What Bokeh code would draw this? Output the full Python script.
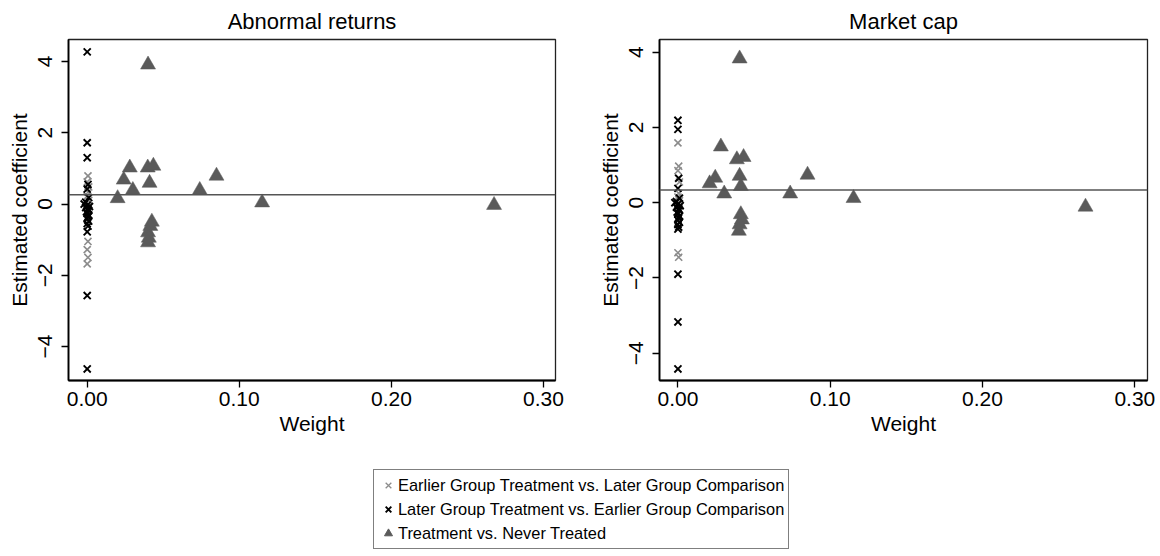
from bokeh.plotting import figure
from bokeh.models import Span, Legend, LegendItem, FixedTicker, Range1d, ColumnDataSource, NumeralTickFormatter
from bokeh.layouts import column, row
from bokeh.embed import file_html
from bokeh.resources import INLINE

FONT = "Liberation Sans"

# ---------------- data ----------------
titles = ["Abnormal returns", "Market cap"]
legend_labels = ["Earlier Group Treatment vs. Later Group Comparison",
                 "Later Group Treatment vs. Earlier Group Comparison",
                 "Treatment vs. Never Treated"]
x_ticks = [0.0, 0.1, 0.2, 0.3]
y_ticks = [-4, -2, 0, 2, 4]
y_tick_labels = {-4: "\u22124", -2: "\u22122", 0: "0", 2: "2", 4: "4"}

# Abnormal returns
ar_never_x = [0.040, 0.028, 0.0398, 0.0435, 0.024, 0.030, 0.041, 0.020, 0.074, 0.085,
              0.115, 0.2675, 0.0425, 0.0415, 0.040, 0.0405, 0.040]
ar_never_y = [3.91, 1.02, 1.02, 1.07, 0.68, 0.39, 0.59, 0.16, 0.39, 0.79,
              0.04, -0.03, -0.50, -0.62, -0.80, -0.95, -1.08]
ar_early_x = [0.0005, 0.0, 0.001, 0.0005, 0.0, 0.001, 0.0005, 0.0, 0.001, 0.0005,
              0.0, 0.0005, 0.0]
ar_early_y = [0.79, 0.62, 0.48, 0.33, 0.22, 0.10, -0.05, -0.18, -0.35, -1.05,
              -1.28, -1.50, -1.68]
ar_late_x = [0.0, 0.0, 0.0, 0.0005, 0.0, 0.001, -0.001, -0.002, 0.0, 0.0015,
             -0.001, 0.0005, 0.001, -0.0005, 0.0, 0.001, 0.0005, 0.0, 0.001, 0.0,
             0.0005, 0.0, 0.0, 0.0]
ar_late_y = [4.27, 1.72, 1.30, 0.55, 0.42, 0.18, 0.05, 0.0, -0.03, -0.07,
             -0.10, -0.14, -0.18, -0.22, -0.27, -0.31, -0.36, -0.42, -0.48, -0.55,
             -0.62, -0.78, -2.57, -4.63]
ar_mean = 0.26

# Market cap
mc_never_x = [0.0405, 0.0282, 0.0387, 0.0431, 0.0245, 0.0208, 0.0304, 0.0405, 0.0413, 0.0737,
              0.0851, 0.1153, 0.2676, 0.0413, 0.0420, 0.0405, 0.0400]
mc_never_y = [3.83, 1.49, 1.15, 1.21, 0.66, 0.51, 0.24, 0.71, 0.44, 0.24,
              0.74, 0.12, -0.11, -0.31, -0.45, -0.58, -0.75]
mc_early_x = [0.0, 0.0005, 0.0, 0.001, 0.0005, 0.0, 0.001, 0.0005, 0.0, 0.0, 0.0005]
mc_early_y = [1.59, 0.97, 0.85, 0.55, 0.25, 0.15, 0.05, -0.10, -0.30, -1.33, -1.45]
mc_late_x = [0.0, 0.0, 0.0005, 0.0, 0.001, -0.001, -0.002, 0.0, 0.0015, -0.001,
             0.0005, 0.001, -0.0005, 0.0, 0.001, 0.0005, 0.0, 0.001, 0.0, 0.0005,
             0.0, 0.0, 0.0, 0.0]
mc_late_y = [2.19, 1.95, 0.65, 0.38, 0.12, 0.03, 0.0, -0.04, -0.08, -0.12,
             -0.16, -0.20, -0.25, -0.30, -0.35, -0.40, -0.46, -0.52, -0.58, -0.65,
             -0.70, -1.90, -3.17, -4.42]
mc_mean = 0.34

GRAY_X = "#8c8c8c"
BLACK_X = "#000000"
TRI = "#5a5a5a"


def panel(title, nx, ny, ex, ey, lx, ly, mean, xr, yr, width, border_left, border_right):
    p = figure(width=width, height=440, output_backend="svg", toolbar_location=None,
               x_range=Range1d(*xr), y_range=Range1d(*yr),
               min_border_left=border_left, min_border_right=border_right,
               min_border_top=39, min_border_bottom=60,
               background_fill_color="white", border_fill_color="white")
    p.grid.visible = False
    p.outline_line_color = "#222222"
    p.outline_line_width = 1.3
    p.title.text = title
    p.title.align = "center"
    p.title.text_font = FONT
    p.title.text_font_size = "22px"
    p.title.text_font_style = "normal"
    p.title.text_color = "black"
    p.title.standoff = 11

    for ax in (p.xaxis[0], p.yaxis[0]):
        ax.axis_line_color = "black"
        ax.axis_line_width = 1.8
        ax.major_tick_line_color = "black"
        ax.major_tick_line_width = 1.3
        ax.major_tick_out = 7
        ax.major_tick_in = 0
        ax.minor_tick_line_color = None
        ax.major_label_text_font = FONT
        ax.major_label_text_font_size = "21px"
        ax.major_label_text_color = "black"
        ax.axis_label_text_font = FONT
        ax.axis_label_text_font_size = "21px"
        ax.axis_label_text_font_style = "normal"
        ax.axis_label_text_color = "black"

    p.xaxis.ticker = FixedTicker(ticks=x_ticks)
    p.xaxis.formatter = NumeralTickFormatter(format="0.00")
    p.xaxis.axis_label = "Weight"
    p.xaxis.major_label_standoff = 4
    p.xaxis.axis_label_standoff = 3

    p.yaxis.ticker = FixedTicker(ticks=y_ticks)
    p.yaxis.major_label_overrides = y_tick_labels
    p.yaxis.major_label_orientation = "vertical"
    p.yaxis.axis_label = "Estimated coefficient"
    p.yaxis.major_label_standoff = 9
    p.yaxis.axis_label_standoff = 5

    p.add_layout(Span(location=mean, dimension="width", line_color="#555555", line_width=1.5))

    p.scatter(ex, ey, marker="x", size=10, line_color=GRAY_X, line_width=1.6)
    p.scatter(lx, ly, marker="x", size=10, line_color=BLACK_X, line_width=1.9)
    p.scatter(nx, ny, marker="triangle", size=15, fill_color=TRI, line_color=TRI, line_width=0.5)
    return p


p1 = panel(titles[0], ar_never_x, ar_never_y, ar_early_x, ar_early_y, ar_late_x, ar_late_y,
           ar_mean, (-0.0123, 0.3079), (-4.954, 4.618), 580, 68, 25)
p2 = panel(titles[1], mc_never_x, mc_never_y, mc_early_x, mc_early_y, mc_late_x, mc_late_y,
           mc_mean, (-0.0121, 0.3083), (-4.726, 4.338), 575, 79, 8)

# legend figure (legend glyph renderers hold a point outside the visible range)
p3 = figure(width=1150, height=112, output_backend="svg", toolbar_location=None,
            x_axis_type=None, y_axis_type=None, min_border=0,
            x_range=Range1d(0, 1), y_range=Range1d(0, 1),
            background_fill_color="white", border_fill_color="white")
p3.grid.visible = False
p3.outline_line_color = None
hidden = ColumnDataSource(data=dict(x=[-10], y=[-10]))
r1 = p3.scatter("x", "y", source=hidden, marker="x", line_color=GRAY_X, line_width=1.3)
r2 = p3.scatter("x", "y", source=hidden, marker="x", line_color=BLACK_X, line_width=1.9)
r3 = p3.scatter("x", "y", source=hidden, marker="triangle", fill_color=TRI, line_color=TRI)
leg = Legend(items=[LegendItem(label=legend_labels[0], renderers=[r1]),
                    LegendItem(label=legend_labels[1], renderers=[r2]),
                    LegendItem(label=legend_labels[2], renderers=[r3])],
             location=(373, 3))
leg.label_text_font = FONT
leg.label_text_font_size = "16.4px"
leg.label_text_color = "black"
leg.border_line_color = "black"
leg.border_line_width = 1
leg.background_fill_color = "white"
leg.background_fill_alpha = 1
leg.padding = 4
leg.spacing = 2
leg.glyph_width = 20
leg.glyph_height = 22
leg.label_standoff = 0
leg.margin = 0
p3.add_layout(leg, "center")

layout = column(row(p1, p2, spacing=0), p3, spacing=0)

open("out.html", "w").write(file_html(layout, INLINE))
